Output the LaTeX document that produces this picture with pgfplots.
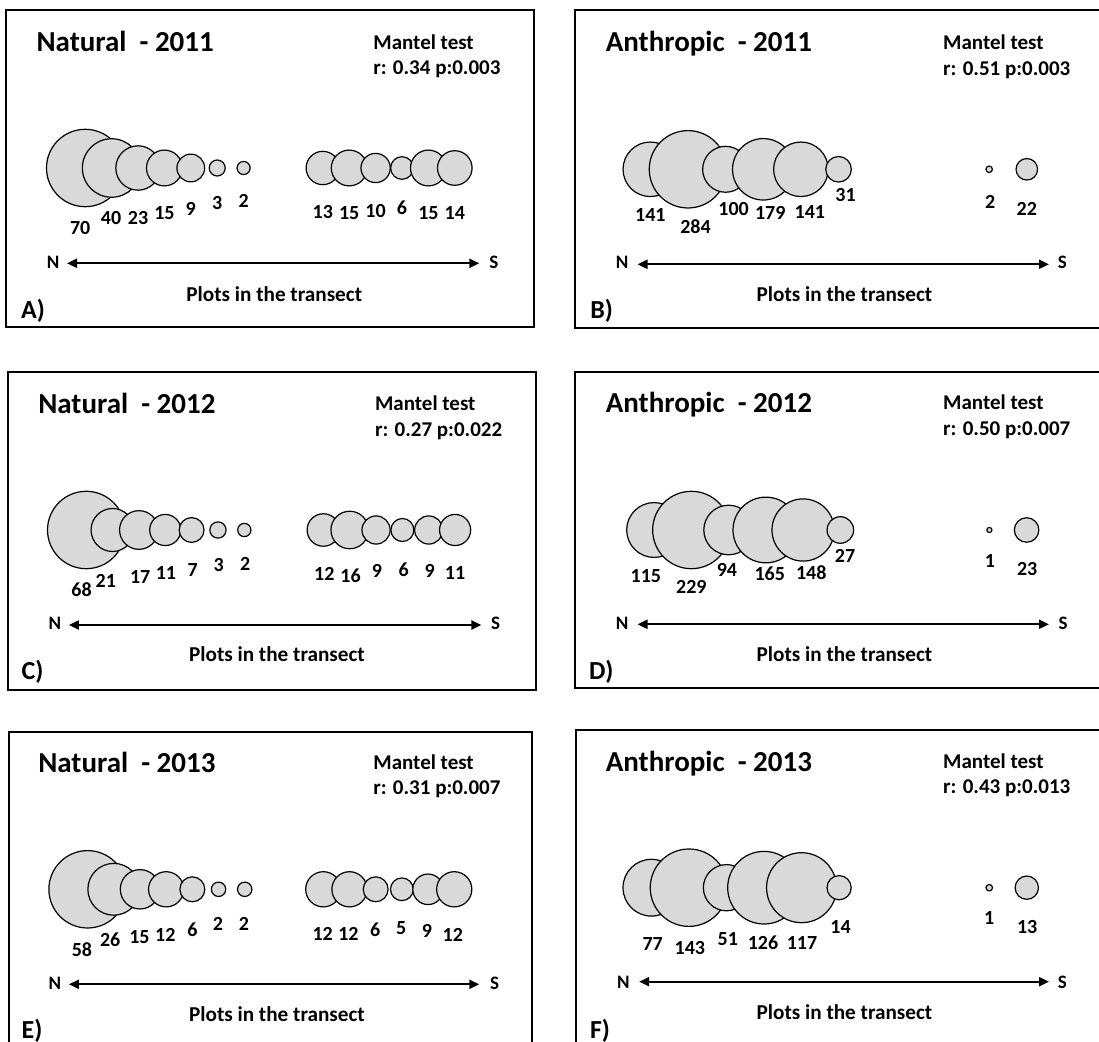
\documentclass[border=0pt]{standalone}
\usepackage{fontspec}
\setmainfont{Carlito}
\usepackage{pgfplots}
\pgfplotsset{compat=1.18}
\usepackage{pgfplotstable}
\usetikzlibrary{arrows.meta}
\definecolor{bub}{HTML}{D9D9D9}

\newcommand\ftitle{\fontsize{14.5}{16}\selectfont\bfseries}
\newcommand\fmant{\fontsize{10.5}{12}\selectfont\bfseries}
\newcommand\flbl{\fontsize{10}{12}\selectfont\bfseries}
\newcommand\fns{\fontsize{9.5}{11}\selectfont\bfseries}
\newcommand\fplots{\fontsize{10.6}{13}\selectfont\bfseries}
\newcommand\fpanel{\fontsize{13}{15}\selectfont\bfseries}

\pgfplotstableread{
i v dx dy
1 70 -5 60
2 40 -0.6 50.3
3 23 0 50.3
4 15 0 45.3
5 9 0 41
6 3 0 35.3
7 2 0 33
10 13 0 44.3
11 15 0 45.3
12 10 0 42.7
13 6 0 39.3
14 15 0 45.3
15 14 0 45.3
}\dataA
\pgfplotstableread{
i v dx dy
1 141 0 45.7
2 284 7.5 57.4
3 100 8 40
4 179 7 44
5 141 9 42.4
6 31 7 25.7
10 2 1 32.4
11 22 0 40
}\dataB
\pgfplotstableread{
i v dx dy
1 68 -4.6 59.3
2 21 -6.8 51
3 17 1.3 47.3
4 11 0.7 43.3
5 7 1.2 40
6 3 0.7 35
7 2 0.9 34
10 12 1 44
11 16 0.9 46
12 9 1 40.7
13 6 1.2 39.3
14 9 1 40.7
15 11 0 43.3
}\dataC
\pgfplotstableread{
i v dx dy
1 115 -8.2 46
2 229 0 56.7
3 94 -1.7 40
4 165 3.9 43.3
5 148 8.1 42.3
6 27 4.7 26
10 1 0.7 31
11 23 0.6 39
}\dataD
\pgfplotstableread{
i v dx dy
1 58 -5.6 60
2 26 -3.6 50.7
3 15 -0.5 47.4
4 12 -0.9 45.7
5 6 0 40
6 2 -0.6 34.7
7 2 -0.9 34.7
10 12 -0.6 45
11 12 -1 45
12 6 -0.4 40
13 5 -0.7 39
14 9 -1.1 41.4
15 12 -1.5 45.7
}\dataE
\pgfplotstableread{
i v dx dy
1 77 1.3 56.3
2 143 0.9 60.6
3 51 1.4 51.3
4 126 -1 55
5 117 0.5 55
6 14 1.5 39
10 1 0 30.6
11 13 0.4 39
}\dataF

\pgfplotsset{
  panel/.style={scale only axis, height=20pt, ymin=-1, ymax=1, xmin=0,
    hide axis, clip=false, anchor=west,
    /pgf/number format/assume math mode=true},
  bubbles/.style={scatter, only marks, mark=*,
    point meta=\thisrow{v},
    mark options={line width=0.6pt},
    visualization depends on={19.35*sqrt(\thisrow{v}/#1) \as \rad},
    scatter/@pre marker code/.code={%
      \edef\markopts{mark size=\rad pt, draw=black, fill=bub}%
      \expandafter\scope\expandafter[\markopts]%
    },
    scatter/@post marker code/.code={\endscope},
  },
  labels/.style={draw=none, mark=none, forget plot,
    point meta=\thisrow{v},
    visualization depends on={\thisrow{dx} \as \ldx},
    visualization depends on={\thisrow{dy} \as \ldy},
    nodes near coords,
    every node near coord/.append style={anchor=center, inner sep=0pt,
      text=black, font=\flbl, xshift=\ldx*0.5pt, yshift=-\ldy*0.5pt},
  },
}

\newcommand\paneltext[5]{%
  \node[anchor=base west, inner sep=0] at (#3) {\ftitle #1};
  \node[anchor=base west, inner sep=0] at (#4) {\fmant Mantel test};
  \node[anchor=base west, inner sep=0] at (#5) {\fmant #2};
}
\newcommand\panelbottom[9]{%
  \node[anchor=base west, inner sep=0] at (#1,#2) {\fns N};
  \node[anchor=base west, inner sep=0] at (#3,#2) {\fns S};
  \draw[line width=1pt, {Triangle[length=5pt,width=4.5pt]}-{Triangle[length=5pt,width=4.5pt]}] (#4,#6) -- (#5,#6);
  \node[anchor=base west, inner sep=0] at (#7,#8) {\fplots Plots in the transect};
  #9
}

\begin{document}
\begin{tikzpicture}[x=0.5pt, y=-0.5pt]
\useasboundingbox (0,0) rectangle (1099,1042);
\fill[white] (0,0) rectangle (1099,1042);

% frames
\draw[line width=1pt] (6.2,10) rectangle (533.7,326.7);
\draw[line width=1pt] (575,10.5) rectangle (1110,328.3);
\draw[line width=1pt] (7.6,371.7) rectangle (535.5,690);
\draw[line width=1pt] (575,371.7) rectangle (1110,688.3);
\draw[line width=1pt] (8.6,731.7) rectangle (532,1060);
\draw[line width=1pt] (576,730) rectangle (1110,1060);

% Panel A
\begin{axis}[panel, at={(29.4pt,-84pt)}, width=211.2pt, xmax=16]
\addplot[bubbles=70] table[x=i, y expr=0] {\dataA};
\addplot[labels] table[x=i, y expr=0] {\dataA};
\end{axis}
% Panel B
\begin{axis}[panel, at={(306.33pt,-84.65pt)}, width=225.9pt, xmax=12]
\addplot[bubbles=284] table[x=i, y expr=0] {\dataB};
\addplot[labels] table[x=i, y expr=0] {\dataB};
\end{axis}
% Panel C
\begin{axis}[panel, at={(29.93pt,-265pt)}, width=210.8pt, xmax=16]
\addplot[bubbles=68] table[x=i, y expr=0] {\dataC};
\addplot[labels] table[x=i, y expr=0] {\dataC};
\end{axis}
% Panel D
\begin{axis}[panel, at={(308.43pt,-265pt)}, width=223.5pt, xmax=12]
\addplot[bubbles=229] table[x=i, y expr=0] {\dataD};
\addplot[labels] table[x=i, y expr=0] {\dataD};
\end{axis}
% Panel E
\begin{axis}[panel, at={(30.7pt,-444.65pt)}, width=209.52pt, xmax=16]
\addplot[bubbles=58] table[x=i, y expr=0] {\dataE};
\addplot[labels] table[x=i, y expr=0] {\dataE};
\end{axis}
% Panel F
\begin{axis}[panel, at={(306.93pt,-443.85pt)}, width=225.24pt, xmax=12]
\addplot[bubbles=143] table[x=i, y expr=0] {\dataF};
\addplot[labels] table[x=i, y expr=0] {\dataF};
\end{axis}

% texts
\paneltext{Natural\ \ - 2011}{r: 0.34 p:0.003}{36.2,51.7}{373,49.3}{373,75}
\panelbottom{46.5}{268.3}{489}{67}{479.3}{263.3}{186}{301.7}{\node[anchor=base west, inner sep=0] at (20.7,318.3) {\fpanel A)};}

\paneltext{Anthropic\ \ - 2011}{r: 0.51 p:0.003}{605.4,51.7}{942.8,49.3}{942.8,76}
\panelbottom{615.5}{268.3}{1057.5}{637.5}{1049}{264.3}{756.2}{301.7}{\node[anchor=base west, inner sep=0] at (590,318.3) {\fpanel B)};}

\paneltext{Natural\ \ - 2012}{r: 0.27 p:0.022}{37.9,413.3}{374.7,410.7}{374.7,436.7}
\panelbottom{48.2}{630}{490.7}{68.9}{481.4}{625}{188.7}{661.7}{\node[anchor=base west, inner sep=0] at (21.3,680) {\fpanel C)};}

\paneltext{Anthropic\ \ - 2012}{r: 0.50 p:0.007}{605.4,412.3}{942.8,410}{942.8,436}
\panelbottom{615.5}{629.3}{1058.2}{637.5}{1049}{624.3}{756.2}{661.7}{\node[anchor=base west, inner sep=0] at (588.6,680) {\fpanel D)};}

\paneltext{Natural\ \ - 2013}{r: 0.31 p:0.007}{37.9,772.7}{373,770}{373,795}
\panelbottom{48.2}{989.3}{489.7}{68.9}{479.3}{984.3}{188.7}{1021.7}{\node[anchor=base west, inner sep=0] at (21.3,1038.3) {\fpanel E)};}

\paneltext{Anthropic\ \ - 2013}{r: 0.43 p:0.013}{605.4,771.7}{942.8,768.3}{942.8,793.3}
\panelbottom{616.6}{988.3}{1057.5}{639.2}{1049}{981.7}{756.2}{1020}{\node[anchor=base west, inner sep=0] at (589.6,1038.3) {\fpanel F)};}

\end{tikzpicture}
\end{document}
